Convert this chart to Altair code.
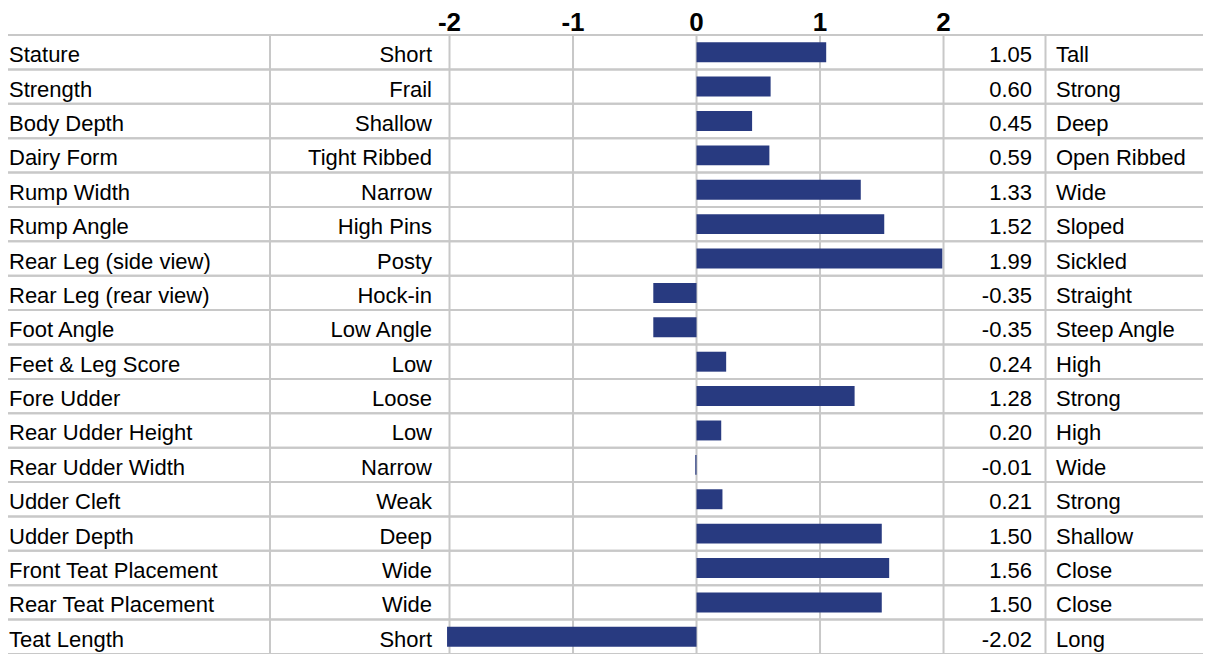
import altair as alt
import pandas as pd

traits = ["Stature", "Strength", "Body Depth", "Dairy Form", "Rump Width", "Rump Angle",
          "Rear Leg (side view)", "Rear Leg (rear view)", "Foot Angle", "Feet & Leg Score",
          "Fore Udder", "Rear Udder Height", "Rear Udder Width", "Udder Cleft", "Udder Depth",
          "Front Teat Placement", "Rear Teat Placement", "Teat Length"]
low_labels = ["Short", "Frail", "Shallow", "Tight Ribbed", "Narrow", "High Pins", "Posty",
              "Hock-in", "Low Angle", "Low", "Loose", "Low", "Narrow", "Weak", "Deep",
              "Wide", "Wide", "Short"]
high_labels = ["Tall", "Strong", "Deep", "Open Ribbed", "Wide", "Sloped", "Sickled",
               "Straight", "Steep Angle", "High", "Strong", "High", "Wide", "Strong",
               "Shallow", "Close", "Close", "Long"]
values = [1.05, 0.60, 0.45, 0.59, 1.33, 1.52, 1.99, -0.35, -0.35, 0.24, 1.28, 0.20,
          -0.01, 0.21, 1.50, 1.56, 1.50, -2.02]
ticks = [-2, -1, 0, 1, 2]
tick_labels = ["-2", "-1", "0", "1", "2"]

W, H = 1195, 646
TOP, BOTTOM = 27, 646
FONT = "Liberation Sans"
FS = 22
GRID = "#c8c8c8"
BAR = "#283a80"

df = pd.DataFrame({"trait": traits, "low": low_labels, "high": high_labels, "value": values})
df["label"] = [f"{v:.2f}" for v in values]
tdf = pd.DataFrame({"t": ticks, "lab": tick_labels})

x_scale = alt.Scale(domain=[-5.575, 4.101], nice=False, zero=False)
y_scale = alt.Scale(range=[TOP, BOTTOM], paddingInner=0, paddingOuter=0)


def yenc(bp=None):
    if bp is None:
        return alt.Y("trait:N", sort=traits, scale=y_scale, axis=None)
    return alt.Y("trait:N", sort=traits, scale=y_scale, axis=None, bandPosition=bp)


base = alt.Chart(df)

hlines_top = base.mark_rule(color=GRID, strokeWidth=2).encode(
    y=yenc(0), x=alt.value(0), x2=alt.value(W))
hlines_bot = base.mark_rule(color=GRID, strokeWidth=2).encode(
    y=yenc(1), x=alt.value(0), x2=alt.value(W))

vgrid = alt.Chart(tdf).mark_rule(color=GRID, strokeWidth=2).encode(
    x=alt.X("t:Q", scale=x_scale, axis=None), y=alt.value(TOP), y2=alt.value(BOTTOM))

col1 = alt.Chart(pd.DataFrame({"c": [0]})).mark_rule(color=GRID, strokeWidth=2).encode(
    x=alt.value(262), y=alt.value(TOP), y2=alt.value(BOTTOM))
col2 = alt.Chart(pd.DataFrame({"c": [0]})).mark_rule(color=GRID, strokeWidth=2).encode(
    x=alt.value(1037.5), y=alt.value(TOP), y2=alt.value(BOTTOM))

bars = base.mark_bar(height={"band": 0.58}, color=BAR).encode(
    x=alt.X("value:Q", scale=x_scale, axis=None), x2=alt.datum(0), y=yenc())

tick_text = alt.Chart(tdf).mark_text(fontSize=26, fontWeight="bold", font=FONT,
                                      baseline="top", color="black").encode(
    x=alt.X("t:Q", scale=x_scale, axis=None), y=alt.value(2), text="lab:N")


def col_text(field, xpos, align):
    return base.mark_text(align=align, baseline="middle", fontSize=FS, font=FONT,
                          color="black", dy=3).encode(x=alt.value(xpos), y=yenc(), text=f"{field}:N")


trait_text = col_text("trait", 1, "left")
low_text = col_text("low", 424, "right")
val_text = col_text("label", 1024, "right")
high_text = col_text("high", 1048, "left")

chart = alt.layer(
    hlines_top, hlines_bot, vgrid, col1, col2, bars,
    tick_text, trait_text, low_text, val_text, high_text
).properties(
    width=W, height=H, autosize=alt.AutoSizeParams(type="none"), padding=0
).configure_view(stroke=None)

chart.save("out.html", embed_options={"renderer": "svg", "actions": False})
